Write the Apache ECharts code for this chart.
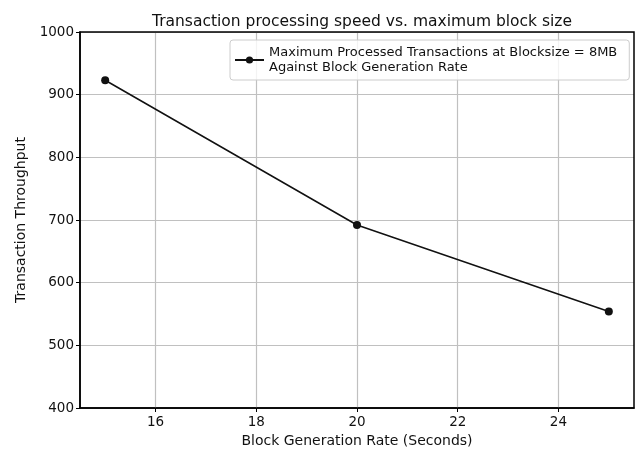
<!DOCTYPE html>
<html>
<head>
<meta charset="utf-8">
<script src="https://cdn.jsdelivr.net/npm/echarts@6/dist/echarts.min.js"></script>
<style>
  html, body { margin: 0; padding: 0; background: #fff; }
  #chart { width: 637px; height: 450px; }
</style>
</head>
<body>
<div id="chart"></div>
<script>
// values
const blockRates = [15, 20, 25];
const throughput = [923, 692, 554];
const xTicks = [16, 18, 20, 22, 24];
const seriesName = 'Maximum Processed Transactions at Blocksize = 8MB\nAgainst Block Generation Rate';

const chart = echarts.init(document.getElementById('chart'), null, { renderer: 'canvas' });

const font = 'DejaVu Sans';

const option = {
  backgroundColor: '#fff',
  animation: false,
  title: {
    text: 'Transaction processing speed vs. maximum block size',
    left: 357,
    textAlign: 'center',
    top: 9,
    textStyle: { fontFamily: font, fontSize: 15.5, fontWeight: 'normal', color: '#111' }
  },
  legend: {
    left: 230,
    top: 40,
    itemWidth: 29,
    itemHeight: 9,
    itemGap: 4,
    padding: [5, 12, 5, 4],
    borderColor: '#ccc',
    borderWidth: 1,
    borderRadius: 3,
    backgroundColor: 'rgba(255,255,255,0.8)',
    textStyle: { fontFamily: font, fontSize: 13, color: '#111', lineHeight: 15 },
    data: [seriesName]
  },
  grid: { left: 80, right: 3, top: 32, bottom: 42, outerBoundsMode: 'none', containLabel: false },
  xAxis: {
    type: 'value',
    min: 14.5,
    max: 25.5,
    name: 'Block Generation Rate (Seconds)',
    nameLocation: 'middle',
    nameGap: 25,
    nameTextStyle: { fontFamily: font, fontSize: 14, color: '#111' },
    axisLine: { lineStyle: { color: '#000', width: 1.5 } },
    axisTick: { show: true, length: 4, lineStyle: { color: '#000' }, customValues: xTicks },
    axisLabel: {
      fontFamily: font, fontSize: 13.5, color: '#111', margin: 7,
      customValues: xTicks
    },
    splitLine: { show: false }
  },
  yAxis: {
    type: 'value',
    min: 400,
    max: 1000,
    interval: 100,
    name: 'Transaction Throughput',
    nameLocation: 'middle',
    nameGap: 51,
    nameTextStyle: { fontFamily: font, fontSize: 14, color: '#111' },
    axisLine: { show: true, lineStyle: { color: '#000', width: 1.5 } },
    axisTick: { show: true, length: 4, lineStyle: { color: '#000' } },
    axisLabel: { fontFamily: font, fontSize: 13.5, color: '#111', margin: 6, formatter: v => String(v) },
    splitLine: { show: true, lineStyle: { color: '#c0c0c0', width: 1.2 } }
  },
  series: [{
    name: seriesName,
    type: 'line',
    data: blockRates.map((x, i) => [x, throughput[i]]),
    symbol: 'circle',
    symbolSize: 8,
    itemStyle: { color: '#111' },
    lineStyle: { color: '#111', width: 1.5 },
    z: 5,
    markLine: {
      silent: true,
      symbol: 'none',
      label: { show: false },
      lineStyle: { color: '#c0c0c0', width: 1.2, type: 'solid' },
      z: 1,
      data: xTicks.map(v => ({ xAxis: v }))
    }
  }],
  graphic: [{
    type: 'rect',
    shape: { x: 80, y: 32, width: 554, height: 376 },
    style: { fill: 'none', stroke: '#000', lineWidth: 1.5 },
    z: 10,
    silent: true
  }]
};

chart.setOption(option);
</script>
</body>
</html>
